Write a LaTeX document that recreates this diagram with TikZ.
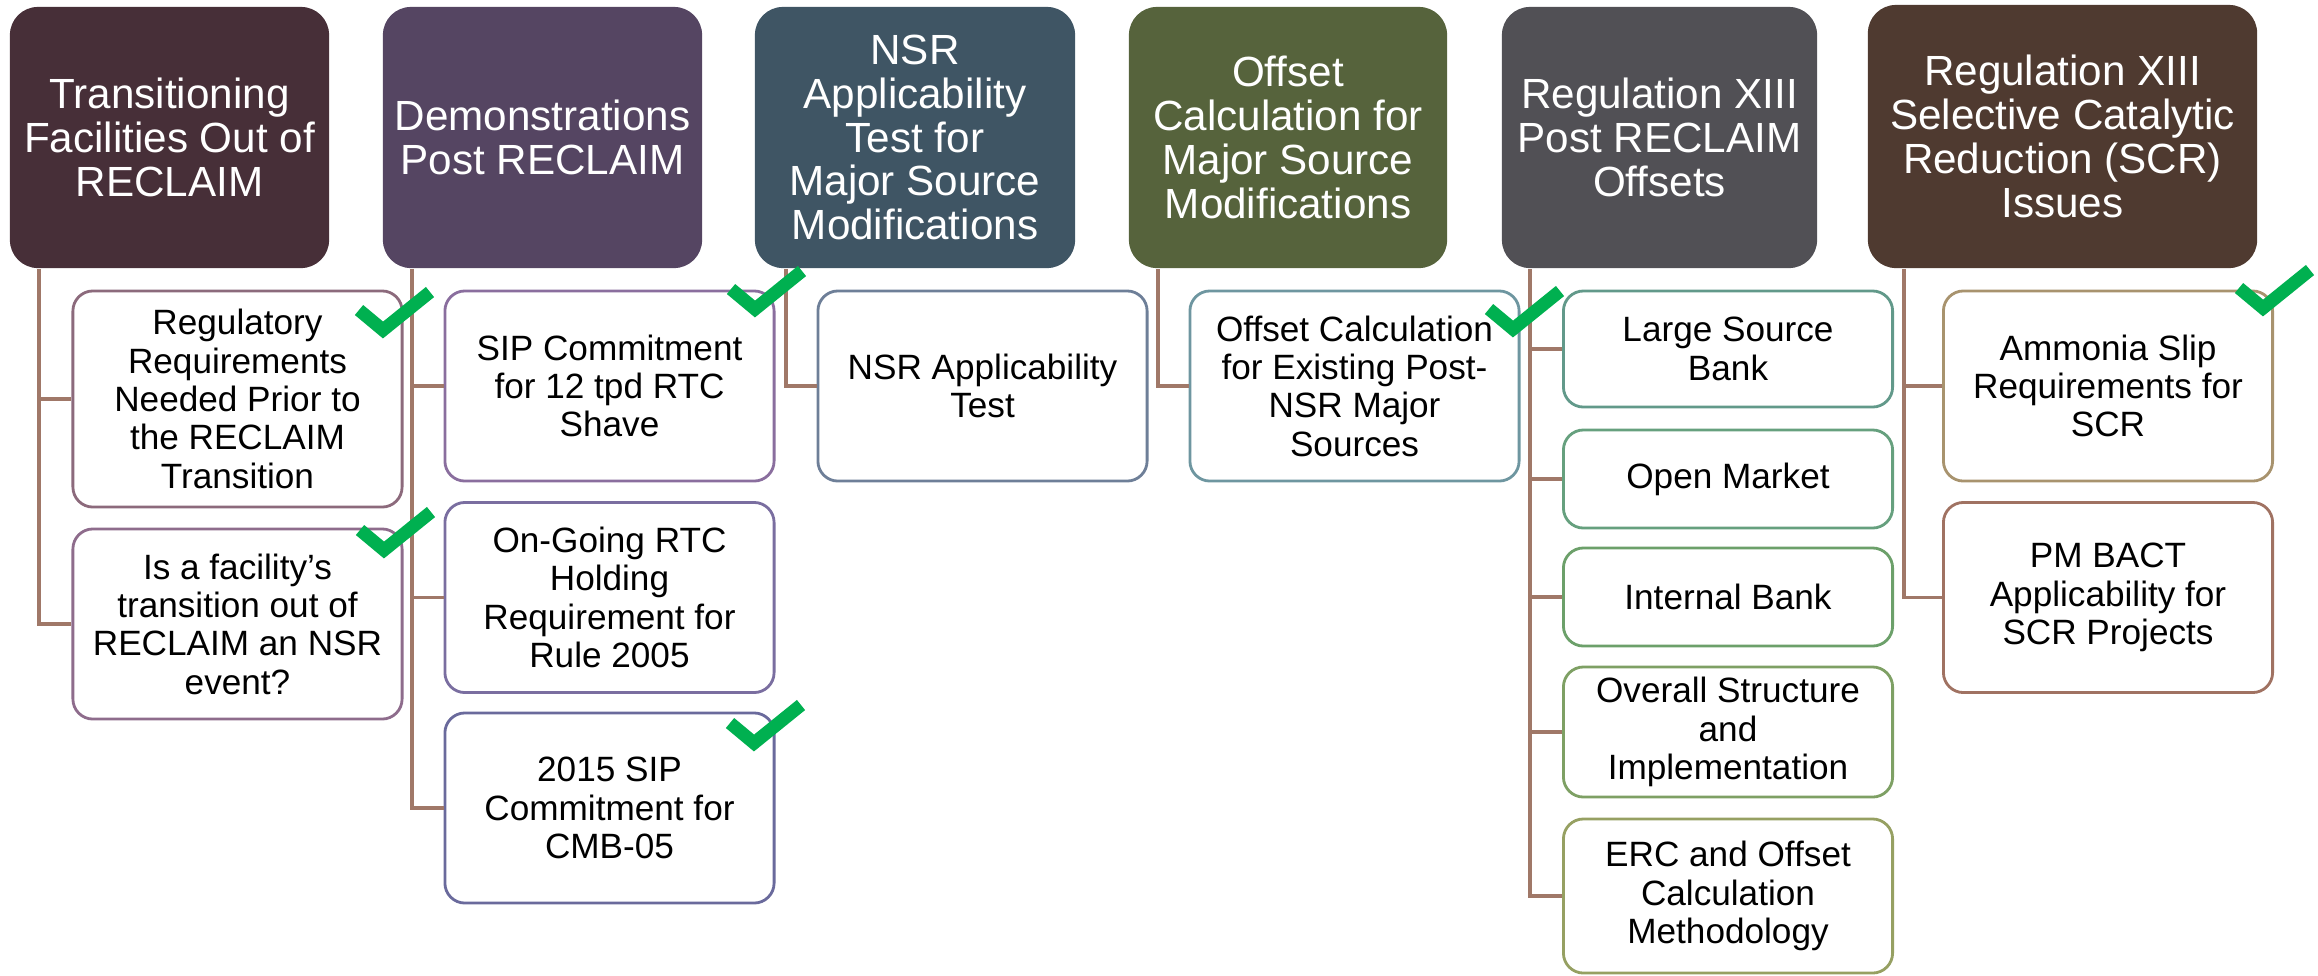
\documentclass[tikz,border=0pt]{standalone}
\usepackage{fontspec}
\setmainfont{Liberation Sans}
\usetikzlibrary{positioning}

\definecolor{hdA}{HTML}{472F38}
\definecolor{hdB}{HTML}{554562}
\definecolor{hdC}{HTML}{3F5564}
\definecolor{hdD}{HTML}{56633C}
\definecolor{hdE}{HTML}{515055}
\definecolor{hdF}{HTML}{4F3A30}
\definecolor{bdA}{HTML}{8C6A7C}
\definecolor{bdB}{HTML}{8E6C8C}
\definecolor{bdC}{HTML}{8A6E9E}
\definecolor{bdD}{HTML}{7A6EA0}
\definecolor{bdE}{HTML}{6A6A9C}
\definecolor{bdF}{HTML}{6E7F98}
\definecolor{bdG}{HTML}{6E96A0}
\definecolor{bdH}{HTML}{62998A}
\definecolor{bdI}{HTML}{66A07E}
\definecolor{bdJ}{HTML}{6CA06A}
\definecolor{bdK}{HTML}{7EA064}
\definecolor{bdL}{HTML}{96A062}
\definecolor{bdM}{HTML}{A8936E}
\definecolor{bdN}{HTML}{A07262}
\definecolor{linkc}{HTML}{A07868}
\definecolor{okgreen}{HTML}{00B050}

\begin{document}
\begin{tikzpicture}[x=0.01cm,y=-0.01cm,
  head/.style={rounded corners=0.28cm, inner sep=0pt, minimum width=3.19cm, minimum height=2.61cm, text=white, align=center, font=\fontsize{12}{12.5}\selectfont},
  item/.style={draw, line width=0.8pt, rounded corners=0.2cm, fill=white, inner sep=0pt, minimum width=3.29cm, minimum height=1.9cm, align=center, font=\fontsize{10}{10.9}\selectfont},
  link/.style={draw=linkc, line width=1pt},
  okmark/.style={draw=okgreen, line width=3.7pt, line cap=butt, line join=miter}]
\useasboundingbox (0,0) rectangle (2318,975);

% top row
\node[head, fill=hdA] (h1) at (169.5,137.5) {Transitioning\\Facilities Out of\\RECLAIM};
\node[head, fill=hdB] (h2) at (542.5,137.5) {Demonstrations\\Post RECLAIM};
\node[head, fill=hdC, minimum width=3.2cm] (h3) at (915,137.5) {NSR\\Applicability\\Test for\\Major Source\\Modifications};
\node[head, fill=hdD, minimum width=3.18cm] (h4) at (1288,137.5) {Offset\\Calculation for\\Major Source\\Modifications};
\node[head, fill=hdE, minimum width=3.15cm] (h5) at (1659.5,137.5) {Regulation XIII\\Post RECLAIM\\Offsets};
\node[head, fill=hdF, minimum width=3.89cm, minimum height=2.63cm] (h6) at (2062.5,136.5) {Regulation XIII\\Selective Catalytic\\Reduction (SCR)\\Issues};

% items
\node[item, draw=bdA, minimum height=2.16cm] (c11) at (237.5,399) {Regulatory\\Requirements\\Needed Prior to\\the RECLAIM\\Transition};
\node[item, draw=bdB] (c12) at (237.5,624) {Is a facility’s\\transition out of\\RECLAIM an NSR\\event?};
\node[item, draw=bdC] (c21) at (609.5,386) {SIP Commitment\\for 12 tpd RTC\\Shave};
\node[item, draw=bdD] (c22) at (609.5,597.5) {On-Going RTC\\Holding\\Requirement for\\Rule 2005};
\node[item, draw=bdE] (c23) at (609.5,808) {2015 SIP\\Commitment for\\CMB-05};
\node[item, draw=bdF] (c31) at (982.5,386) {NSR Applicability\\Test};
\node[item, draw=bdG] (c41) at (1354.5,386) {Offset Calculation\\for Existing Post-\\NSR Major\\Sources};
\node[item, draw=bdH, minimum height=1.16cm] (c51) at (1728,349) {Large Source\\Bank};
\node[item, draw=bdI, minimum height=0.98cm] (c52) at (1728,479) {Open Market};
\node[item, draw=bdJ, minimum height=0.98cm] (c53) at (1728,597) {Internal Bank};
\node[item, draw=bdK, minimum height=1.3cm] (c54) at (1728,732) {Overall Structure\\and\\Implementation};
\node[item, draw=bdL, minimum height=1.54cm] (c55) at (1728,896) {ERC and Offset\\Calculation\\Methodology};
\node[item, draw=bdM] (c61) at (2108,386) {Ammonia Slip\\Requirements for\\SCR};
\node[item, draw=bdN] (c62) at (2108,597.5) {PM BACT\\Applicability for\\SCR Projects};

% links
\draw[link] ([xshift=3mm]h1.south west) |- (c11.west) ([xshift=3mm]h1.south west) |- (c12.west);
\draw[link] ([xshift=3mm]h2.south west) |- (c21.west) ([xshift=3mm]h2.south west) |- (c22.west)
  ([xshift=3mm]h2.south west) |- (c23.west);
\draw[link] ([xshift=3.2mm]h3.south west) |- (c31.west);
\draw[link] ([xshift=3mm]h4.south west) |- (c41.west);
\draw[link] ([xshift=2.9mm]h5.south west) |- (c51.west) ([xshift=2.9mm]h5.south west) |- (c52.west)
  ([xshift=2.9mm]h5.south west) |- (c53.west) ([xshift=2.9mm]h5.south west) |- (c54.west)
  ([xshift=2.9mm]h5.south west) |- (c55.west);
\draw[link] ([xshift=3.7mm]h6.south west) |- (c61.west) ([xshift=3.7mm]h6.south west) |- (c62.west);

% ticks
\foreach \p in {(383,330),(384,550),(755,309),(754,743),(1513,329),(2263,308)}
  \draw[okmark] \p ++(-24,-20) -- ++(24,20) -- ++(47,-38);
\end{tikzpicture}
\end{document}
